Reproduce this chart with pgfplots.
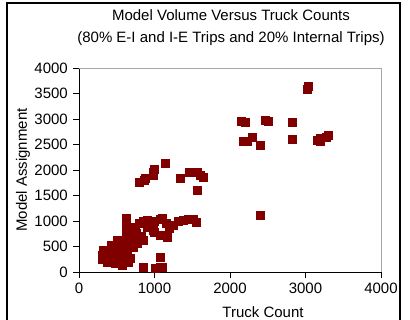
\documentclass[border=0pt]{standalone}
\usepackage{fontspec}
\setmainfont{Liberation Sans}
\usepackage{pgfplots}
\pgfplotsset{compat=1.18}
\definecolor{mk}{RGB}{128,0,0}
\begin{document}
\fontsize{15}{18}\selectfont
\begin{tikzpicture}[x=1pt,y=1pt]
\useasboundingbox (0,0) rectangle (410,320);
\clip (0,0) rectangle (410,320);
\draw[line width=2pt] (7,-10) rectangle (400,317);
\node at (231,305) {Model Volume Versus Truck Counts};
\node at (231,281) {(80\% E-I and I-E Trips and 20\% Internal Trips)};
\node at (263,8) {Truck Count};
\node[rotate=90] at (23,150) {Model Assignment};
\begin{axis}[
  at={(79pt,48pt)}, anchor=south west,
  scale only axis, width=302pt, height=204pt,
  xmin=0, xmax=4000, ymin=0, ymax=4000,
  xtick={0,1000,...,4000}, ytick={0,500,...,4000},
  axis lines*=left, axis line style={-, black, line width=0.8pt},
  tick align=outside, major tick length=6pt,
  tick style={black, line width=0.8pt},
  /pgf/number format/assume math mode=true,
  /pgf/number format/set thousands separator={},
  xticklabel style={anchor=north, inner sep=0pt, yshift=-5pt, font=\fontsize{15}{18}\selectfont},
  yticklabel style={anchor=east, inner sep=0pt, xshift=-5pt, font=\fontsize{15}{18}\selectfont},
  clip=false,
]
\draw[gray!70, line width=0.8pt] (rel axis cs:0,1) -- (rel axis cs:1,1) -- (rel axis cs:1,0);
\addplot[only marks, mark=square*, mark size=4pt, mark options={fill=mk, draw=mk, line width=0.4pt, rounded corners=1pt}] coordinates {
(3020,3580) (3040,3650)
(2150,2960) (2200,2940) (2460,2980) (2500,2950) (2820,2946)
(2172,2556) (2230,2560) (2291,2634) (2397,2478) (2821,2595)
(3160,2580) (3190,2620) (3280,2650) (3300,2690) (3200,2560)
(2397,1112)
(795,1756) (860,1800) (874,1834) (980,1951) (1000,2010) (980,1900) (1139,2127)
(1338,1834) (1457,1951) (1530,1960) (1563,1951) (1600,1900) (1642,1854) (1563,1600)
(620,1054) (620,950) (620,850) (620,750) (620,650) (620,560)
(700,800) (750,880) (800,950) (850,1000) (900,1015) (940,980) (1000,1000)
(1073,1034) (1100,1050) (1150,950) (1245,917) (1200,850) (1320,1000) (1377,1015)
(1450,1030) (1510,1034) (1550,976) (1073,722) (1166,683) (1000,780) (900,870)
(848,624) (768,566) (820,700) (760,760) (700,640) (980,820)
(318,429) (305,332) (371,195) (420,250) (477,176) (570,137) (675,273) (503,624)
(570,429) (410,429) (715,488) (768,683) (460,350) (530,300) (600,250) (640,400)
(680,560) (550,520) (500,480) (350,380) (420,520) (600,330) (650,200) (305,250)
(848,98) (1007,78) (1099,98) (1073,293) (583,234) (1073,98)
};
\end{axis}
\end{tikzpicture}
\end{document}
